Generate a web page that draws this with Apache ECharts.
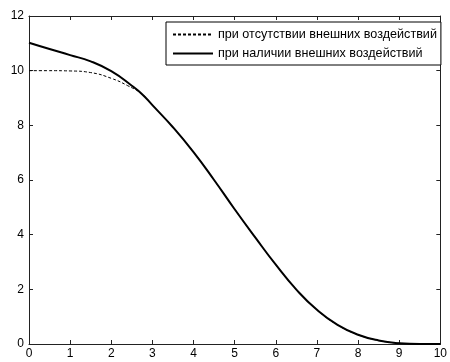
<!DOCTYPE html>
<html><head><meta charset="utf-8">
<script src="https://cdn.jsdelivr.net/npm/echarts@6/dist/echarts.min.js"></script>
<style>html,body{margin:0;padding:0;background:#fff}#c{width:450px;height:362px}</style>
</head><body><div id="c"></div>
<script>
var seriesNames = ['при отсутствии внешних воздействий', 'при наличии внешних воздействий'];
var xNoForce = [0, 0.5, 1.0, 1.5, 2.0, 2.4, 2.75, 3.0, 3.5, 4.0, 4.5, 5.0, 5.5, 6.0, 6.5, 7.0, 7.5, 8.0, 8.5, 9.0, 9.5, 10];
var yNoForce = [10, 10, 9.99, 9.93, 9.72, 9.45, 9.14, 8.74, 7.93, 7.02, 6.0, 4.93, 3.9, 2.9, 1.99, 1.25, 0.7, 0.34, 0.13, 0.03, 0.0, 0.0];
var xForce = [0, 0.5, 1.0, 1.5, 2.0, 2.5, 2.75, 3.0, 3.5, 4.0, 4.5, 5.0, 5.5, 6.0, 6.5, 7.0, 7.5, 8.0, 8.5, 9.0, 9.5, 10];
var yForce = [11.02, 10.79, 10.57, 10.34, 9.98, 9.45, 9.14, 8.74, 7.93, 7.02, 6.0, 4.93, 3.9, 2.9, 1.99, 1.25, 0.7, 0.34, 0.13, 0.03, 0.0, 0.0];
var xTicks = [0,1,2,3,4,5,6,7,8,9,10];
var yTicks = [0,2,4,6,8,10,12];

function pairs(xs, ys){ return xs.map(function(x,i){ return [x, ys[i]]; }); }

var axisCol = '#222';
var font = {color:'#000', fontFamily:'Liberation Sans, Arial, sans-serif', fontSize:12};
var chart = echarts.init(document.getElementById('c'), null, {renderer:'canvas'});
function xA(pos, labels){
  return {type:'value', position:pos, min:xTicks[0], max:xTicks[xTicks.length-1], interval:xTicks[1]-xTicks[0],
    axisLine:{show:true, onZero:false, lineStyle:{color:axisCol, width:1}},
    axisTick:{show:true, inside:true, length:4, lineStyle:{color:axisCol}},
    axisLabel:Object.assign({show:labels, margin:4}, font),
    splitLine:{show:false}};
}
function yA(pos, labels){
  return {type:'value', position:pos, min:yTicks[0], max:yTicks[yTicks.length-1], interval:yTicks[1]-yTicks[0],
    axisLine:{show:true, onZero:false, lineStyle:{color:axisCol, width:1}},
    axisTick:{show:true, inside:true, length:4, lineStyle:{color:axisCol}},
    axisLabel:Object.assign({show:labels, margin:5}, font),
    splitLine:{show:false}};
}
chart.setOption({
  animation:false,
  backgroundColor:'#fff',
  grid:{left:29, right:5, top:16, bottom:18},
  xAxis:[xA('bottom', true), xA('top', false)],
  yAxis:[yA('left', true), yA('right', false)],
  legend:{
    orient:'vertical', left:166, top:22,
    padding:[6,4,5,6], itemGap:6, itemWidth:40, itemHeight:12,
    borderColor:'#000', borderWidth:1, backgroundColor:'#fff',
    itemStyle:{opacity:0},
    textStyle:Object.assign({}, font, {fontSize:12.6}),
    data:seriesNames
  },
  series:[
    {name:seriesNames[0], type:'line', data:pairs(xNoForce,yNoForce), smooth:0.5, symbol:'none',
     lineStyle:{color:'#000', width:1, type:[3,2]}, itemStyle:{color:'#000'}, z:3},
    {name:seriesNames[1], type:'line', data:pairs(xForce,yForce), smooth:0.5, symbol:'none',
     lineStyle:{color:'#000', width:2}, itemStyle:{color:'#000'}, z:2}
  ]
});
</script></body></html>
